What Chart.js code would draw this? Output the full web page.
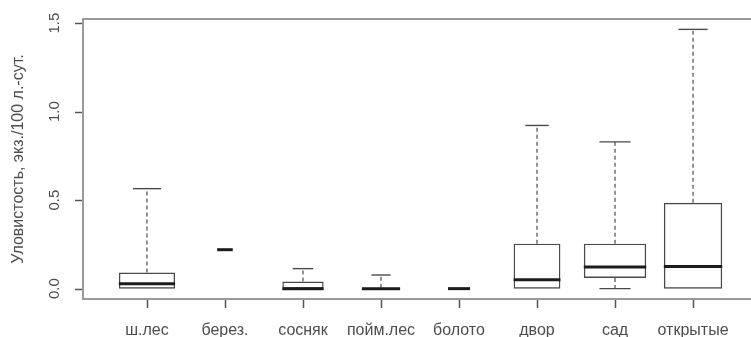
<!DOCTYPE html>
<html>
<head>
<meta charset="utf-8">
<script src="https://cdn.jsdelivr.net/npm/chart.js@4"></script>
<style>
  html, body { margin: 0; padding: 0; background: #fff; overflow: hidden; }
  canvas { display: block; }
</style>
</head>
<body>
<canvas id="chart" width="757" height="337"></canvas>
<script>
// Habitat categories along the x axis
const categories = ['ш.лес', 'берез.', 'сосняк', 'пойм.лес', 'болото', 'двор', 'сад', 'открытые'];
// Sample sizes per habitat (box width ~ sqrt(n))
const counts = [13, 1, 7, 6, 2, 9, 16, 14];
// Five-number summaries, catch per 100 trap-days
const whiskerLow  = [0.000, 0.220, 0.000, 0.000, 0.000, 0.000, 0.000, 0.000];
const lowerQuart  = [0.000, 0.220, 0.000, 0.000, 0.000, 0.000, 0.060, 0.000];
const medians     = [0.028, 0.220, 0.000, 0.000, 0.000, 0.050, 0.122, 0.125];
const upperQuart  = [0.091, 0.220, 0.040, 0.005, 0.000, 0.254, 0.254, 0.485];
const whiskerHigh = [0.565, 0.220, 0.113, 0.077, 0.000, 0.922, 0.829, 1.465];
// Value axis ticks
const yTicks = [0.0, 0.5, 1.0, 1.5];
const yTickLabels = ['0.0', '0.5', '1.0', '1.5'];
const yTitle = 'Уловистость, экз./100 л.-сут.';

const textColor = '#4d4d4d';
const tickMarkColor = '#555555';
const fontFamily = '"Liberation Sans", Arial, sans-serif';

const nMax = Math.max(...counts);
const boxFrac = counts.map(n => 0.8 * Math.sqrt(n / nMax));

// Axis limits padded by 4% on each side
const yLo = Math.min(...whiskerLow), yHi = Math.max(...whiskerHigh);
const yPad = 0.04 * (yHi - yLo);
const xLo = 0.5, xHi = categories.length + 0.5;
const xPad = 0.04 * (xHi - xLo);

// One floating bar (lower to upper quartile) per habitat
const datasets = categories.map((name, i) => ({
  label: name,
  data: [{ x: i + 1, y: [lowerQuart[i], upperQuart[i]] }],
  backgroundColor: 'rgba(255,255,255,0)',
  borderColor: '#4a4a4a',
  borderWidth: 1.4,
  borderSkipped: false,
  grouped: false,
  categoryPercentage: 1,
  barPercentage: boxFrac[i]
}));

// Whiskers, staples, medians, plot frame and outward tick marks
const boxplotMarks = {
  id: 'boxplotMarks',
  beforeDatasetsDraw(chart) {
    const { ctx, chartArea: a } = chart;
    ctx.save();
    ctx.strokeStyle = '#8f8f8f';
    ctx.lineWidth = 1.8;
    ctx.strokeRect(a.left, a.top, a.right - a.left, a.bottom - a.top);
    ctx.restore();
  },
  afterDatasetsDraw(chart) {
    const { ctx } = chart;
    const x = chart.scales.x, y = chart.scales.y;
    ctx.save();
    categories.forEach((_, i) => {
      const cx = x.getPixelForValue(i + 1);
      const half = x.getPixelForValue(i + 1 + boxFrac[i] / 2) - cx;
      const yWl = y.getPixelForValue(whiskerLow[i]);
      const yQ1 = y.getPixelForValue(lowerQuart[i]);
      const yMd = y.getPixelForValue(medians[i]);
      const yQ3 = y.getPixelForValue(upperQuart[i]);
      const yWh = y.getPixelForValue(whiskerHigh[i]);

      // dashed whiskers
      ctx.setLineDash([4, 3]);
      ctx.strokeStyle = '#5a5a5a';
      ctx.lineWidth = 1.3;
      ctx.beginPath();
      if (yWh < yQ3) { ctx.moveTo(cx, yQ3); ctx.lineTo(cx, yWh); }
      if (yWl > yQ1) { ctx.moveTo(cx, yQ1); ctx.lineTo(cx, yWl); }
      ctx.stroke();

      // staples at whisker ends that reach past the box
      ctx.setLineDash([]);
      ctx.strokeStyle = '#4a4a4a';
      ctx.lineWidth = 1.4;
      ctx.beginPath();
      if (yWh < yQ3) { ctx.moveTo(cx - half / 2, yWh); ctx.lineTo(cx + half / 2, yWh); }
      if (yWl > yQ1) { ctx.moveTo(cx - half / 2, yWl); ctx.lineTo(cx + half / 2, yWl); }
      ctx.stroke();

      // median
      ctx.strokeStyle = '#1c1c1c';
      ctx.lineWidth = 3;
      ctx.beginPath();
      ctx.moveTo(cx - half, yMd); ctx.lineTo(cx + half, yMd);
      ctx.stroke();
    });
    ctx.restore();
  },
  afterDraw(chart) {
    const { ctx, chartArea: a } = chart;
    const x = chart.scales.x, y = chart.scales.y;
    ctx.save();
    ctx.setLineDash([]);
    ctx.strokeStyle = tickMarkColor;
    ctx.lineWidth = 1.5;
    ctx.beginPath();
    for (let i = 0; i < categories.length; i++) {
      const px = Math.round(x.getPixelForValue(i + 1)) + 0.5;
      ctx.moveTo(px, a.bottom + 1);
      ctx.lineTo(px, a.bottom + 9);
    }
    for (let i = 0; i < yTicks.length; i++) {
      const py = Math.round(y.getPixelForValue(yTicks[i])) + 0.5;
      ctx.moveTo(a.left - 1, py);
      ctx.lineTo(a.left - 8, py);
    }
    ctx.stroke();
    ctx.restore();
  }
};

new Chart(document.getElementById('chart'), {
  type: 'bar',
  data: { datasets },
  plugins: [boxplotMarks],
  options: {
    responsive: false,
    animation: false,
    layout: { padding: { top: 16, right: 0, bottom: 0, left: 0 } },
    plugins: { legend: { display: false }, tooltip: { enabled: false } },
    scales: {
      x: {
        type: 'linear',
        offset: false,
        min: xLo - xPad,
        max: xHi + xPad,
        afterBuildTicks: s => { s.ticks = categories.map((_, i) => ({ value: i + 1 })); },
        afterFit: s => { s.height = 38; },
        ticks: {
          callback: (v, i) => categories[i],
          autoSkip: false, minRotation: 0, maxRotation: 0,
          padding: 14,
          color: textColor,
          font: { family: fontFamily, size: 16 }
        },
        grid: { display: false },
        border: { display: false }
      },
      y: {
        type: 'linear',
        min: yLo - yPad,
        max: yHi + yPad,
        afterBuildTicks: s => { s.ticks = yTicks.map(v => ({ value: v })); },
        afterFit: s => { s.width = 83; },
        ticks: {
          callback: (v, i) => yTickLabels[i],
          minRotation: 90, maxRotation: 90,
          crossAlign: 'center',
          padding: 10,
          color: textColor,
          font: { family: fontFamily, size: 15 }
        },
        title: {
          display: true,
          text: yTitle,
          color: textColor,
          font: { family: fontFamily, size: 16 },
          padding: { top: 9, bottom: 0 }
        },
        grid: { display: false },
        border: { display: false }
      }
    }
  }
});
</script>
</body>
</html>
